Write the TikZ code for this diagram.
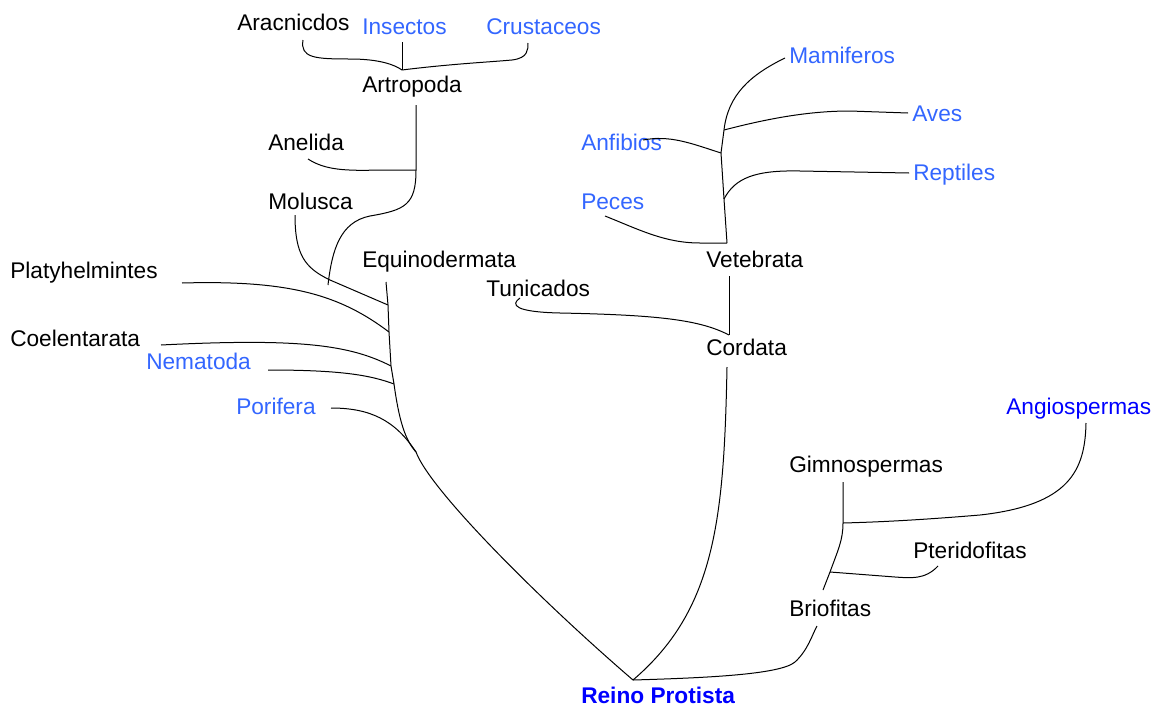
\documentclass[tikz,border=0pt]{standalone}
\usepackage{fontspec}
\setmainfont{Liberation Sans}
\definecolor{azulclaro}{RGB}{51,102,255}
\definecolor{azul}{RGB}{0,0,255}
\begin{document}
\begin{tikzpicture}[x=0.75pt,y=-0.75pt,
    taxon/.style={anchor=base west,inner sep=0pt,font=\fontsize{17}{20}\selectfont},
    taxonb/.style={taxon,text=azulclaro},
    rama/.style={line width=0.75pt}]
      \useasboundingbox (0,0) rectangle (1163,707);
      % nodos
      \node[taxon] (ara) at (237,30) {Aracnicdos};
      \node[taxonb] (ins) at (362,34) {Insectos};
      \node[taxonb] (cru) at (486,34) {Crustaceos};
      \node[taxon] (art) at (362,92) {Artropoda};
      \node[taxon] (ane) at (268,150) {Anelida};
      \node[taxon] (mol) at (268,209) {Molusca};
      \node[taxon] (equ) at (362,267) {Equinodermata};
      \node[taxon] (pla) at (10,278) {Platyhelmintes};
      \node[taxon] (coe) at (10,346) {Coelentarata};
      \node[taxonb] (nem) at (146,369) {Nematoda};
      \node[taxonb] (por) at (236,414) {Porifera};
      \node[taxonb] (mam) at (789,63) {Mamiferos};
      \node[taxonb] (ave) at (912,121) {Aves};
      \node[taxonb] (anf) at (581,150) {Anfibios};
      \node[taxonb] (rep) at (913,180) {Reptiles};
      \node[taxonb] (pec) at (581,209) {Peces};
      \node[taxon] (vet) at (706,267) {Vetebrata};
      \node[taxon] (tun) at (486,296) {Tunicados};
      \node[taxon] (cor) at (706,355) {Cordata};
      \node[taxon,text=azul] (ang) at (1006,414) {Angiospermas};
      \node[taxon] (gim) at (789,472) {Gimnospermas};
      \node[taxon] (pte) at (913,558) {Pteridofitas};
      \node[taxon] (bri) at (789,616) {Briofitas};
      \node[taxon,text=azul,font=\fontsize{17}{20}\selectfont\bfseries] (rei) at (581,703) {Reino Protista};
      % extremos y uniones
      \coordinate (ara-e) at (303,40);
      \coordinate (ins-e) at (402,42);
      \coordinate (cru-e) at (528,43);
      \coordinate (j-art) at (402,70);
      \coordinate (art-e) at (416,105);
      \coordinate (ane-e) at (308,159);
      \coordinate (j-ane) at (416,170);
      \coordinate (art-f) at (328,285);
      \coordinate (mol-e) at (295,215);
      \coordinate (equ-e) at (386,282);
      \coordinate (j-mol) at (388,305);
      \coordinate (pla-e) at (182,283);
      \coordinate (j-pla) at (389,332);
      \coordinate (coe-e) at (161,345);
      \coordinate (j-coe) at (391,366);
      \coordinate (nem-e) at (268,370);
      \coordinate (j-nem) at (394,384);
      \coordinate (por-e) at (331,408);
      \coordinate (j-por) at (416,452);
      \coordinate (j-rei) at (633,680);
      \coordinate (mam-e) at (785,58);
      \coordinate (j-ave) at (724,130);
      \coordinate (ave-e) at (908,113);
      \coordinate (anf-e) at (643,140);
      \coordinate (j-anf) at (721,153);
      \coordinate (j-rep) at (724,199);
      \coordinate (rep-e) at (909,173);
      \coordinate (pec-e) at (605,216);
      \coordinate (j-pec) at (727,243);
      \coordinate (vet-e) at (729,276);
      \coordinate (tun-e) at (520,298);
      \coordinate (j-tun) at (729,335);
      \coordinate (cor-e) at (727,367);
      \coordinate (bri-e) at (817,626);
      \coordinate (bri-f) at (823,590);
      \coordinate (j-pte) at (830,572);
      \coordinate (pte-e) at (938,566);
      \coordinate (j-ang) at (843,523);
      \coordinate (ang-e) at (1086,423);
      \coordinate (gim-e) at (843,482);
      % artropodos
      \draw[rama] (ara-e) .. controls (300,58) and (315,59) .. (350,59) .. controls (380,59) and (395,65) .. (j-art);
      \draw[rama] (ins-e) -- (j-art);
      \draw[rama] (j-art) .. controls (450,64) and (490,62) .. (512,60) .. controls (528,58) and (528,50) .. (cru-e);
      \draw[rama] (art-e) -- (j-ane) .. controls (416,205) and (405,210) .. (370,216) .. controls (340,222) and (332,250) .. (art-f);
      \draw[rama] (ane-e) .. controls (325,170) and (345,171) .. (380,170) -- (j-ane);
      \draw[rama] (mol-e) .. controls (295,255) and (305,268) .. (330,280) -- (j-mol);
      % tronco de invertebrados
      \draw[rama] (equ-e) -- (j-mol) -- (j-pla) -- (j-coe) -- (j-nem) .. controls (399,420) and (405,440) .. (j-por) .. controls (430,490) and (540,600) .. (j-rei);
      \draw[rama] (pla-e) .. controls (290,280) and (340,295) .. (j-pla);
      \draw[rama] (coe-e) .. controls (300,338) and (350,345) .. (j-coe);
      \draw[rama] (nem-e) .. controls (340,370) and (370,375) .. (j-nem);
      \draw[rama] (por-e) .. controls (370,408) and (395,420) .. (j-por);
      % vertebrados
      \draw[rama] (mam-e) .. controls (750,75) and (728,95) .. (j-ave) -- (j-anf) -- (j-rep) -- (j-pec);
      \draw[rama] (j-ave) .. controls (770,118) and (810,111) .. (850,111) -- (ave-e);
      \draw[rama] (anf-e) .. controls (670,135) and (690,143) .. (j-anf);
      \draw[rama] (j-rep) .. controls (735,178) and (755,170) .. (800,171) -- (rep-e);
      \draw[rama] (pec-e) .. controls (640,230) and (665,243) .. (700,243) -- (j-pec);
      \draw[rama] (vet-e) -- (j-tun);
      \draw[rama] (tun-e) .. controls (510,305) and (515,312) .. (560,313) .. controls (660,315) and (700,320) .. (j-tun);
      \draw[rama] (cor-e) .. controls (724,520) and (715,610) .. (j-rei);
      % plantas
      \draw[rama] (j-rei) .. controls (700,678) and (780,675) .. (795,662) .. controls (808,650) and (812,635) .. (bri-e);
      \draw[rama] (bri-f) -- (j-pte) .. controls (838,550) and (843,540) .. (j-ang) -- (gim-e);
      \draw[rama] (ang-e) .. controls (1085,470) and (1070,505) .. (980,515) .. controls (920,520) and (880,522) .. (j-ang);
      \draw[rama] (pte-e) .. controls (925,580) and (910,578) .. (895,577) -- (j-pte);
    \end{tikzpicture}
\end{document}
